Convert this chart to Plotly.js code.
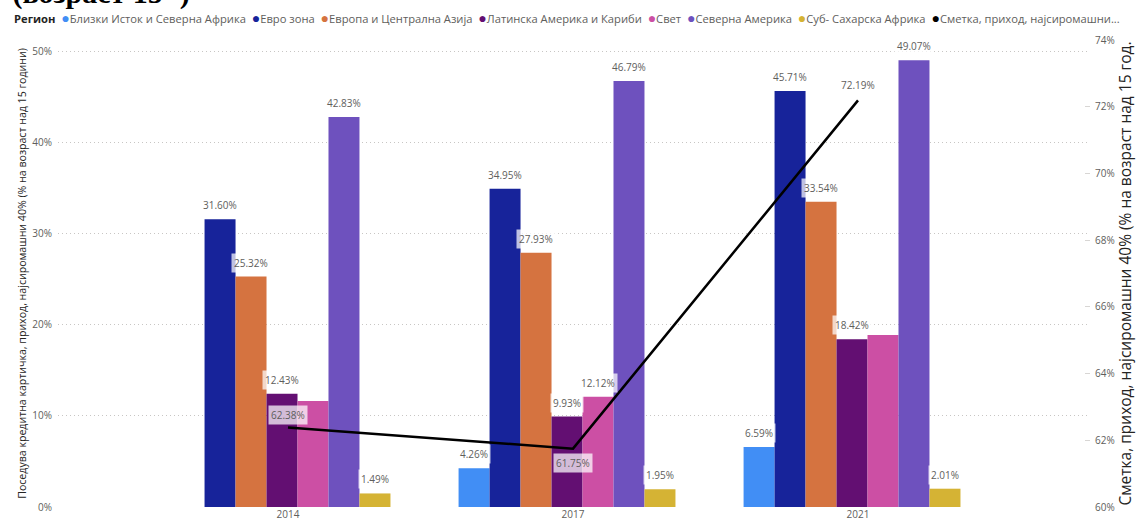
<!DOCTYPE html>
<html>
<head>
<meta charset="utf-8">
<script src="https://cdn.plot.ly/plotly-3.0.1.min.js"></script>
<style>html,body{margin:0;padding:0;background:#fff;}#chart{width:1136px;height:520px;}</style>
</head>
<body>
<div id="chart"></div>
<script>
// ---- data ----
const categories = ['2014', '2017', '2021'];
const seriesNames = [
  'Близки Исток и Северна Африка',
  'Евро зона',
  'Европа и Централна Азија',
  'Латинска Америка и Кариби',
  'Свет',
  'Северна Америка',
  'Суб- Сахарска Африка'
];
const blizkiIstok = [null, 4.26, 6.59];
const evroZona = [31.60, 34.95, 45.71];
const evropaCA = [25.32, 27.93, 33.54];
const latinskaAm = [12.43, 9.93, 18.42];
const svet = [11.65, 12.12, 18.9];
const severnaAm = [42.83, 46.79, 49.07];
const subSahara = [1.49, 1.95, 2.01];
const lineName = 'Сметка, приход, најсиромашни 40% (% на возраст над 15 години)';
const lineLegendText = 'Сметка, приход, најсиромашни...';
const smetka = [62.38, 61.75, 72.19];
const leftTitle = 'Поседува кредитна картичка, приход, најсиромашни 40% (% на возраст над 15 години)';
const rightTitle = 'Сметка, приход, најсиромашни 40% (% на возраст над 15 год.';
const chartTitle = '(возраст 15+)';
const legendTitle = 'Регион';

// ---- style ----
const seriesValues = [blizkiIstok, evroZona, evropaCA, latinskaAm, svet, severnaAm, subSahara];
const colors = ['#418EF5', '#17239A', '#D57340', '#630F72', '#CC4FA4', '#6E51BE', '#D5B334'];
const hiddenLabels = [['Свет', '2014'], ['Свет', '2021']];
const lineLabelShift = [13, -14, 15];
const FONT = 'Open Sans, Noto Sans, sans-serif';
const barPx = 31;
const labelColor = '#605E5C';

const traces = seriesValues.map((vals, i) => ({
  type: 'bar',
  name: seriesNames[i],
  x: categories,
  y: vals,
  xaxis: 'x',
  yaxis: 'y',
  marker: {color: colors[i]},
  showlegend: false,
  hoverinfo: 'x+y+name'
}));
traces.push({
  type: 'scatter',
  mode: 'lines',
  name: lineName,
  x: categories,
  y: smetka,
  xaxis: 'x2',
  yaxis: 'y2',
  line: {color: '#000000', width: 2.5},
  showlegend: false
});

const annotations = [];
seriesValues.forEach((vals, i) => {
  vals.forEach((v, k) => {
    if (v === null) return;
    if (hiddenLabels.some(h => h[0] === seriesNames[i] && h[1] === categories[k])) return;
    annotations.push({
      xref: 'x', yref: 'y', x: k, y: v,
      xshift: (i - 3) * barPx, yshift: 4,
      yanchor: 'bottom', xanchor: 'center',
      text: v.toFixed(2) + '%', showarrow: false,
      font: {family: FONT, size: 10, color: labelColor},
      bgcolor: 'rgba(255,255,255,0.72)', borderpad: 2
    });
  });
});
smetka.forEach((v, k) => {
  annotations.push({
    xref: 'x2', yref: 'y2', x: k, y: v,
    yshift: lineLabelShift[k], yanchor: 'middle', xanchor: 'center',
    text: v.toFixed(2) + '%', showarrow: false,
    font: {family: FONT, size: 10, color: labelColor},
    bgcolor: 'rgba(255,255,255,0.72)', borderpad: 2
  });
});

// legend built as a single text line
let legendHtml = '<b><span style="color:#252423">' + legendTitle + '</span></b>  ';
seriesNames.forEach((n, i) => {
  legendHtml += '<span style="color:' + colors[i] + ';font-size:14px">●</span>' + n + '  ';
});
legendHtml += '<span style="color:#000;font-size:14px">●</span>' + lineLegendText;
annotations.push({
  xref: 'paper', yref: 'paper', x: -0.0446, y: 1.049,
  xanchor: 'left', yanchor: 'middle', showarrow: false,
  text: legendHtml,
  font: {family: FONT, size: 11.2, color: labelColor}
});

const layout = {
  width: 1136, height: 520,
  margin: {l: 58, r: 46, t: 40, b: 13},
  paper_bgcolor: '#ffffff', plot_bgcolor: '#ffffff',
  barmode: 'group', bargap: 0.239, bargroupgap: 0,
  showlegend: false,
  title: {
    text: '<b>' + chartTitle + '</b>',
    font: {family: 'Liberation Serif, serif', size: 30, color: '#000'},
    xref: 'container', yref: 'container',
    x: 0.011, xanchor: 'left', y: 0.994, yanchor: 'bottom'
  },
  xaxis: {
    type: 'category', range: [-0.786, 2.835],
    showgrid: false, zeroline: false, showline: false,
    ticks: '', ticklabelshift: 6,
    tickfont: {family: FONT, size: 10, color: labelColor},
    automargin: false, fixedrange: true
  },
  xaxis2: {
    type: 'category', overlaying: 'x', range: [-0.807, 2.814],
    visible: false, fixedrange: true
  },
  yaxis: {
    range: [0, 51.3], dtick: 10, ticksuffix: '%',
    showgrid: true, gridcolor: '#C8C6C4', griddash: '1px,3px', gridwidth: 1,
    zeroline: false, showline: false, ticks: '', ticklabelstandoff: 5,
    tickfont: {family: FONT, size: 10, color: labelColor},
    title: {text: leftTitle, font: {family: FONT, size: 10.6, color: '#252423'}, standoff: 3},
    automargin: false, fixedrange: true
  },
  yaxis2: {
    overlaying: 'y', side: 'right',
    range: [60, 74], dtick: 2, ticksuffix: '%',
    showgrid: false, zeroline: false, showline: false,
    ticks: 'inside', ticklen: 5, tickcolor: '#D8D6D4', tickwidth: 1, ticklabelstandoff: 4,
    tickfont: {family: FONT, size: 10, color: labelColor},
    title: {text: rightTitle, font: {family: FONT, size: 15.5, color: '#252423'}, standoff: 2},
    automargin: false, fixedrange: true
  },
  annotations: annotations
};

Plotly.newPlot('chart', traces, layout, {displayModeBar: false, staticPlot: true});
</script>
</body>
</html>
